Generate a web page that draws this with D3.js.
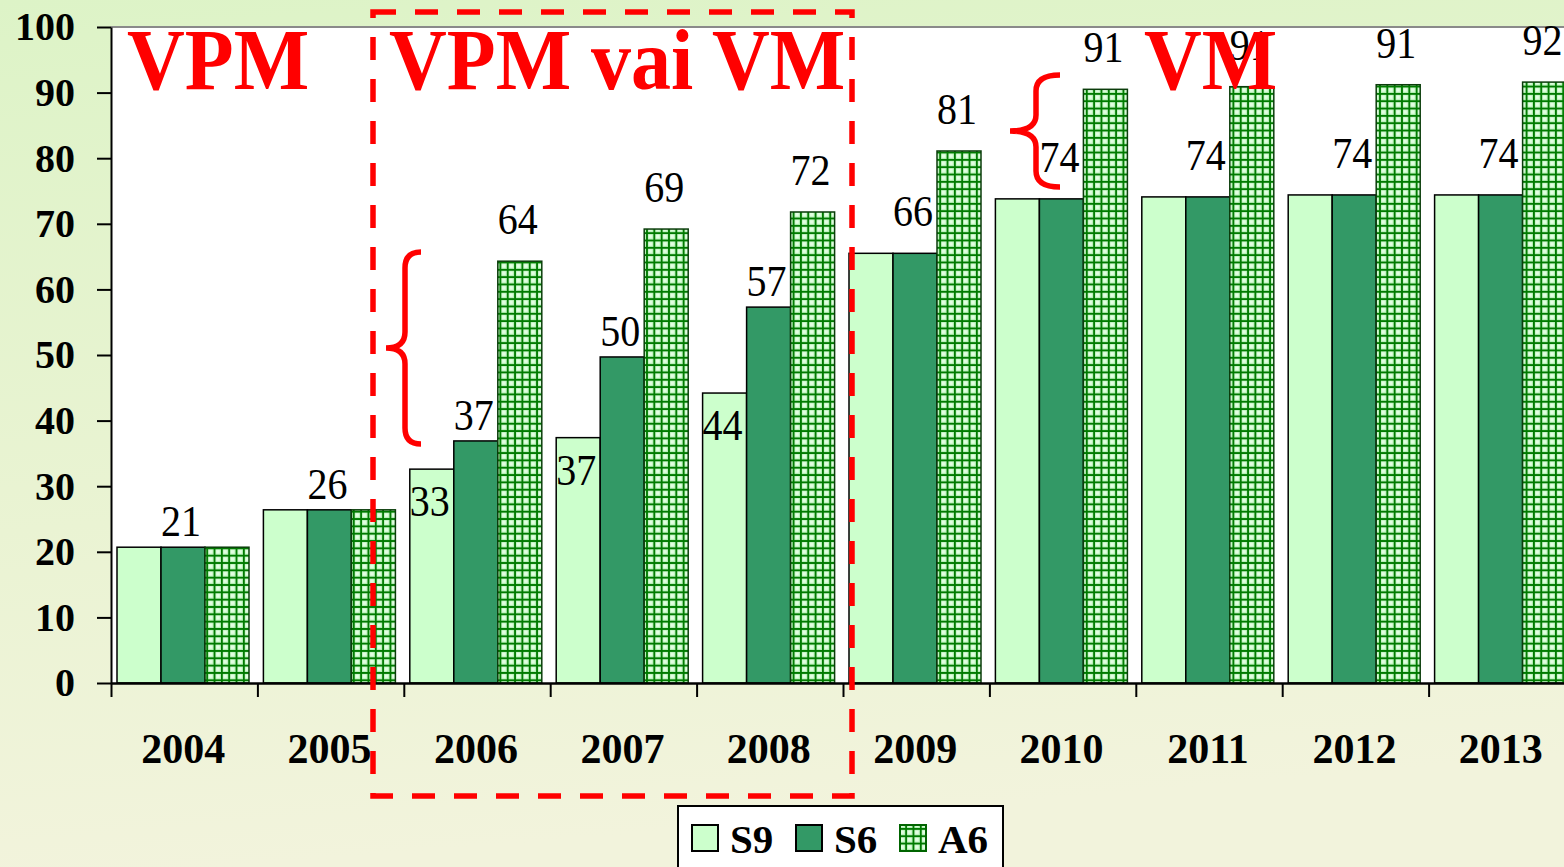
<!DOCTYPE html>
<html>
<head>
<meta charset="utf-8">
<script src="https://cdn.jsdelivr.net/npm/d3@7"></script>
<style>
  html, body { margin: 0; padding: 0; overflow: hidden; }
  svg { display: block; font-family: "Liberation Serif", "Times New Roman", serif; }
</style>
</head>
<body>
<div id="chart"></div>
<script>
// chart data
const years = ["2004", "2005", "2006", "2007", "2008", "2009", "2010", "2011", "2012", "2013"];
const seriesNames = ["S9", "S6", "A6"];
const s9Values = [20.7, 26.4, 32.6, 37.4, 44.2, 65.5, 73.8, 74.1, 74.4, 74.4];
const s6Values = [20.7, 26.4, 36.9, 49.7, 57.3, 65.5, 73.8, 74.1, 74.4, 74.4];
const a6Values = [20.7, 26.4, 64.3, 69.2, 71.8, 81.1, 90.5, 90.9, 91.2, 91.6];
const yTicks = [0, 10, 20, 30, 40, 50, 60, 70, 80, 90, 100];
// which bars carry a data label
const s9Labelled = ["2006", "2007", "2008"];
const s6Labelled = years;
const a6Labelled = ["2006", "2007", "2008", "2009", "2010", "2011", "2012", "2013"];
const periodTexts = ["VPM", "VPM vai VM", "VM"];

const width = 1564;
const height = 867;
const margin = { top: 27, left: 111, bottom: 184, right: -11 };
const plotW = width - margin.left - margin.right;
const plotH = height - margin.top - margin.bottom;

const colors = { S9: "#ccffcc", S6: "#339966", A6: "url(#grid)" };
const valuesBySeries = { S9: s9Values, S6: s6Values, A6: a6Values };

const svg = d3.select("#chart").append("svg")
  .attr("width", width)
  .attr("height", height);

const defs = svg.append("defs");

// page background
const grad = defs.append("linearGradient")
  .attr("id", "bg")
  .attr("x1", "0").attr("y1", "0").attr("x2", "0.15").attr("y2", "1");
grad.append("stop").attr("offset", "0").attr("stop-color", "#ddf3c7");
grad.append("stop").attr("offset", "0.6").attr("stop-color", "#eaf3d3");
grad.append("stop").attr("offset", "1").attr("stop-color", "#f2f3dc");

// checked pattern for A6
const pat = defs.append("pattern")
  .attr("id", "grid")
  .attr("patternUnits", "userSpaceOnUse")
  .attr("width", 7.33).attr("height", 7.33);
pat.append("rect").attr("width", 7.33).attr("height", 7.33).attr("fill", "#b3eeb3");
pat.append("rect").attr("x", 2.4).attr("y", 2.4).attr("width", 3.8).attr("height", 3.8).attr("fill", "#e2ffe2");
pat.append("path").attr("d", "M0.9,0V7.33M0,0.9H7.33")
  .attr("stroke", "#007a00").attr("stroke-width", 1.8);

svg.append("rect")
  .attr("width", width).attr("height", height)
  .attr("fill", "url(#bg)");

const g = svg.append("g")
  .attr("transform", "translate(" + margin.left + "," + margin.top + ")");

// plot area
g.append("rect")
  .attr("width", plotW).attr("height", plotH)
  .attr("fill", "white");
g.append("line")
  .attr("x1", 0).attr("x2", plotW).attr("y1", 0).attr("y2", 0)
  .attr("stroke", "#8a8a8a").attr("stroke-width", 2);

// scales
const x = d3.scaleBand().domain(years).range([0, plotW]);
const xSub = d3.scaleBand().domain(seriesNames).range([6, 138]);
const y = d3.scaleLinear().domain([0, 100]).range([plotH, 0]);
const xEdges = d3.scaleLinear().domain([0, years.length]).range([0, plotW]);

// bars
seriesNames.forEach(function(name) {
  g.append("g")
    .attr("class", "bars-" + name)
    .selectAll("rect")
    .data(valuesBySeries[name])
    .enter()
    .append("rect")
    .attr("x", function(d, i) { return x(years[i]) + xSub(name); })
    .attr("y", function(d) { return y(d); })
    .attr("width", xSub.bandwidth())
    .attr("height", function(d) { return plotH - y(d); })
    .attr("fill", colors[name])
    .attr("stroke", name == "A6" ? "#0b3d0b" : "black")
    .attr("stroke-width", 1.5);
});

// y axis
const yAxis = g.append("g")
  .call(d3.axisLeft(y).tickValues(yTicks).tickSize(14).tickPadding(22).tickSizeOuter(0));
yAxis.select(".domain").attr("stroke-width", 2);
yAxis.selectAll(".tick line").attr("stroke-width", 2);
yAxis.selectAll("text")
  .attr("font-family", "Liberation Serif, Times New Roman, serif")
  .attr("font-size", 40)
  .attr("font-weight", "bold")
  .attr("fill", "black");

// x axis with ticks on category edges
const xAxis = g.append("g")
  .attr("transform", "translate(0," + plotH + ")")
  .call(d3.axisBottom(xEdges).tickValues(d3.range(years.length + 1)).tickFormat("").tickSize(14).tickSizeOuter(0));
xAxis.select(".domain").attr("stroke-width", 2.5);
xAxis.selectAll(".tick line").attr("stroke-width", 2);

g.append("g")
  .selectAll("text")
  .data(years)
  .enter()
  .append("text")
  .attr("x", function(d) { return x(d) + x.bandwidth() / 2 - 1; })
  .attr("y", plotH + 80)
  .attr("text-anchor", "middle")
  .attr("font-size", 42)
  .attr("font-weight", "bold")
  .text(function(d) { return d; });

// data labels
function labelOffset(name, i) {
  if (name == "S9") return 47;
  if (name == "S6" && i < 5) return -11;
  return -27;
}
const labelled = { S9: s9Labelled, S6: s6Labelled, A6: a6Labelled };
const labelLayer = g.append("g");
seriesNames.forEach(function(name) {
  labelLayer.selectAll(null)
    .data(labelled[name])
    .enter()
    .append("text")
    .attr("transform", function(yr) {
      const i = years.indexOf(yr);
      const cx = x(yr) + xSub(name) + xSub.bandwidth() / 2 - 2;
      const cy = y(valuesBySeries[name][i]) + labelOffset(name, i);
      return "translate(" + cx + "," + cy + ") scale(1,1.1)";
    })
    .attr("text-anchor", "middle")
    .attr("font-size", 40)
    .text(function(yr) { return d3.format(".0f")(valuesBySeries[name][years.indexOf(yr)]); });
});

// period annotations
const red = "#ff0000";
const periodX = [127 - margin.left, 389 - margin.left, 1144 - margin.left];
g.append("g")
  .selectAll("text")
  .data(periodTexts)
  .enter()
  .append("text")
  .attr("transform", function(d, i) { return "translate(" + periodX[i] + "," + (89 - margin.top) + ") scale(1,1.08)"; })
  .attr("font-size", 80)
  .attr("font-weight", "bold")
  .attr("fill", red)
  .text(function(d) { return d; });

// dashed box around the transition years
svg.append("rect")
  .attr("x", 373).attr("y", 12)
  .attr("width", 852 - 373).attr("height", 796 - 12)
  .attr("fill", "none")
  .attr("stroke", red)
  .attr("stroke-width", 5.5)
  .attr("stroke-dasharray", "23,19");

// braces
function brace(xTip, xStem, xEnd, yTop, yBottom) {
  const yMid = (yTop + yBottom) / 2;
  const r = 16;
  return "M" + xEnd + "," + yTop +
    " Q" + xStem + "," + yTop + " " + xStem + "," + (yTop + r) +
    " L" + xStem + "," + (yMid - r) +
    " Q" + xStem + "," + yMid + " " + xTip + "," + yMid +
    " Q" + xStem + "," + yMid + " " + xStem + "," + (yMid + r) +
    " L" + xStem + "," + (yBottom - r) +
    " Q" + xStem + "," + yBottom + " " + xEnd + "," + yBottom;
}
svg.append("path")
  .attr("d", brace(386, 405, 421, 252, 444))
  .attr("fill", "none").attr("stroke", red).attr("stroke-width", 5.5);
svg.append("path")
  .attr("d", brace(1010, 1036, 1060, 75, 187))
  .attr("fill", "none").attr("stroke", red).attr("stroke-width", 5.5);

// legend
const legend = svg.append("g").attr("transform", "translate(678,806)");
legend.append("rect")
  .attr("width", 325).attr("height", 80)
  .attr("fill", "white").attr("stroke", "black").attr("stroke-width", 2);
const legendX = [14, 118, 222];
seriesNames.forEach(function(name, i) {
  legend.append("rect")
    .attr("x", legendX[i]).attr("y", 19)
    .attr("width", 26).attr("height", 26)
    .attr("fill", colors[name])
    .attr("stroke", name == "A6" ? "#006400" : "black")
    .attr("stroke-width", 2);
  legend.append("text")
    .attr("x", legendX[i] + 38).attr("y", 47)
    .attr("font-size", 41)
    .attr("font-weight", "bold")
    .text(name);
});
</script>
</body>
</html>
